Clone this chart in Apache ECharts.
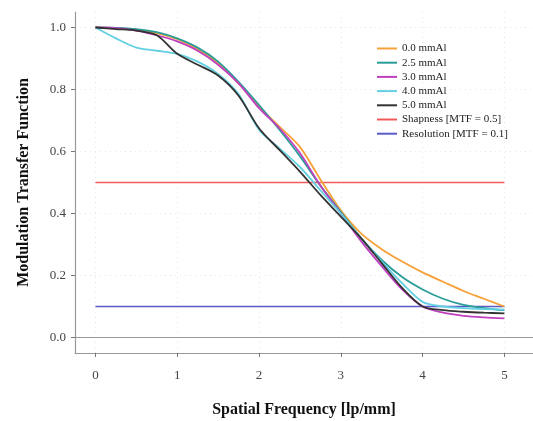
<!DOCTYPE html>
<html><head><meta charset="utf-8">
<script src="https://cdn.jsdelivr.net/npm/echarts@6/dist/echarts.min.js"></script>
<style>html,body{margin:0;padding:0;background:#fff}#c{width:533px;height:421px}</style>
</head><body><div id="c"></div>
<script>
const freq = [0,0.25,0.5,0.75,1,1.25,1.5,1.75,2,2.25,2.5,2.75,3,3.25,3.5,3.75,4,4.25,4.5,4.75,5];
const mtf00 = [1.0,0.998,0.993,0.982,0.962,0.93,0.885,0.82,0.745,0.68,0.615,0.51,0.41,0.335,0.285,0.245,0.21,0.18,0.15,0.125,0.1];
const mtf25 = [1.0,0.999,0.995,0.985,0.965,0.935,0.89,0.825,0.75,0.67,0.585,0.49,0.405,0.32,0.25,0.195,0.155,0.125,0.105,0.095,0.088];
const mtf30 = [1.0,0.998,0.99,0.975,0.955,0.925,0.88,0.82,0.74,0.675,0.595,0.49,0.4,0.31,0.23,0.155,0.1,0.08,0.07,0.065,0.062];
const mtf40 = [1.0,0.965,0.935,0.925,0.915,0.89,0.85,0.785,0.67,0.61,0.55,0.475,0.4,0.32,0.245,0.175,0.115,0.1,0.095,0.092,0.09];
const mtf50 = [1.0,0.995,0.99,0.975,0.915,0.88,0.845,0.78,0.675,0.605,0.535,0.46,0.39,0.32,0.24,0.16,0.1,0.088,0.083,0.08,0.078];
const sharpLevel = 0.5;
const resLevel = 0.1;
const xTicks = [0,1,2,3,4,5];
const yTicks = [0,0.2,0.4,0.6,0.8,1.0];
const names = ['0.0 mmAl','2.5 mmAl','3.0 mmAl','4.0 mmAl','5.0 mmAl','Shapness [MTF = 0.5]','Resolution [MTF = 0.1]'];

const FONT = 'Liberation Serif';
const pair = arr => freq.map((x,i)=>[x,arr[i]]);
function curve(name, arr, color){
  return {name, type:'line', data: pair(arr), smooth:0.3, symbol:'none',
    lineStyle:{color, width:1.8}, itemStyle:{color}, z:3};
}
function hline(name, level, color){
  return {name, type:'line', data:[[freq[0],level],[freq[freq.length-1],level]], symbol:'none',
    lineStyle:{color, width:1.3}, itemStyle:{color}, z:2};
}
const chart = echarts.init(document.getElementById('c'), null, {renderer:'canvas'});
chart.setOption({
  animation:false,
  backgroundColor:'#fff',
  grid:{left:75, right:0, top:12, bottom:68, outerBoundsMode:'none', containLabel:false},
  legend:{orient:'vertical', left:372, top:38, itemWidth:20, itemHeight:2, itemGap:3.2, icon:'rect',
    textStyle:{fontFamily:FONT, fontSize:11, color:'#222'}, data:names},
  xAxis:[{type:'value', min:-0.25, max:5.35, interval:0.25,
    name:'Spatial Frequency [lp/mm]', nameLocation:'middle', nameGap:49,
    nameTextStyle:{fontFamily:FONT, fontSize:16, fontWeight:'bold', color:'#111'},
    axisLine:{show:true, onZero:false, lineStyle:{color:'#999', width:1.2}},
    axisTick:{show:true, length:4, customValues:xTicks, lineStyle:{color:'#777'}},
    axisLabel:{customValues:xTicks, margin:16, fontFamily:FONT, fontSize:13, color:'#444', formatter:v=>String(Math.round(v))},
    splitLine:{show:true, lineStyle:{color:'#e6e6e6', type:[1,4], width:1}}},
   {type:'value', position:'top', min:-0.25, max:5.35,
    axisLine:{show:true, lineStyle:{color:'#999', width:1.2}},
    axisTick:{show:false}, axisLabel:{show:false}, splitLine:{show:false}}],
  yAxis:{type:'value', min:-0.05, max:1.05, interval:0.05,
    name:'Modulation Transfer Function', nameLocation:'middle', nameGap:43,
    nameTextStyle:{fontFamily:FONT, fontSize:16, fontWeight:'bold', color:'#111'},
    axisLine:{show:true, onZero:false, lineStyle:{color:'#999', width:1.2}},
    axisTick:{show:true, length:4, customValues:yTicks, lineStyle:{color:'#777'}},
    axisLabel:{customValues:yTicks, margin:9, fontFamily:FONT, fontSize:13, color:'#444', formatter:v=>v.toFixed(1)},
    splitLine:{show:true, lineStyle:{color:'#e6e6e6', type:[1,4], width:1}}},
  series:[
    curve(names[0], mtf00, '#f7a13a'),
    curve(names[1], mtf25, '#2a9d98'),
    curve(names[2], mtf30, '#bf3fbf'),
    curve(names[3], mtf40, '#62d0e2'),
    curve(names[4], mtf50, '#333333'),
    hline(names[5], sharpLevel, '#f25a5a'),
    hline(names[6], resLevel, '#5a5ac8')
  ]
});
</script></body></html>
